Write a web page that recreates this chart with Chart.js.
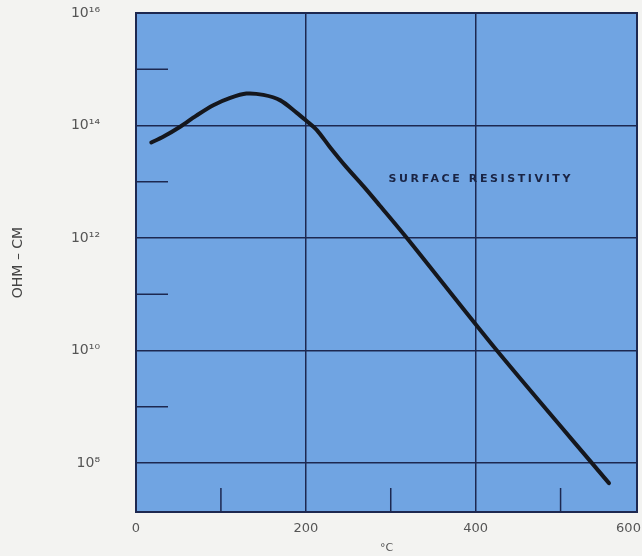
<!DOCTYPE html>
<html>
<head>
<meta charset="utf-8">
<script src="https://cdn.jsdelivr.net/npm/chart.js@4"></script>
<style>
  body { margin: 0; background: #f3f3f1; }
  canvas { display: block; }
</style>
</head>
<body>
<canvas id="myChart" width="642" height="556"></canvas>
<script>
// Data
const tempC = [18, 32, 52, 71, 91, 111, 130, 150, 170, 189, 201, 213, 228, 248, 268, 287, 319, 425, 557];
const resistivity = [5.0e13, 6.3e13, 9.5e13, 1.5e14, 2.3e14, 3.1e14, 3.7e14, 3.5e14, 2.8e14, 1.7e14,
                     1.2e14, 8.3e13, 4.2e13, 1.8e13, 8.3e12, 3.8e12, 1.0e12, 1.0e10, 4.4e7];

const xTickPos = [0, 200, 400, 580];
const xTickText = ['0', '200', '400', '600'];
const xGridVals = [200, 400];
const xMinorTicks = [100, 300, 500];

const yTickPos = [1e8, 1e10, 1e12, 1e14, 1e16];
const yTickText = ['10⁸', '10¹⁰', '10¹²', '10¹⁴', '10¹⁶'];
const yMinorTicks = [1e9, 1e11, 1e13, 1e15];

const navy = '#1d2850';
const plotBlue = '#70a4e2';

const framePlugin = {
  id: 'frame',
  beforeDraw(chart) {
    const { ctx, chartArea: a } = chart;
    ctx.save();
    ctx.fillStyle = plotBlue;
    ctx.fillRect(a.left, a.top, a.right - a.left, a.bottom - a.top);
    ctx.restore();
  },
  beforeDatasetsDraw(chart) {
    const { ctx, chartArea: a, scales } = chart;
    ctx.save();
    ctx.strokeStyle = navy;
    ctx.lineWidth = 2;
    ctx.strokeRect(a.left, a.top, a.right - a.left, a.bottom - a.top);
    // short inner ticks
    ctx.lineWidth = 1.5;
    ctx.beginPath();
    yMinorTicks.forEach(v => {
      const y = scales.y.getPixelForValue(v);
      ctx.moveTo(a.left, y);
      ctx.lineTo(a.left + 32, y);
    });
    xMinorTicks.forEach(v => {
      const x = scales.x.getPixelForValue(v);
      ctx.moveTo(x, a.bottom);
      ctx.lineTo(x, a.bottom - 24);
    });
    ctx.stroke();
    // curve label
    ctx.fillStyle = '#1a2444';
    ctx.font = 'bold 11px "DejaVu Sans"';
    ctx.letterSpacing = '2.6px';
    ctx.textAlign = 'center';
    ctx.textBaseline = 'middle';
    ctx.fillText('SURFACE RESISTIVITY', scales.x.getPixelForValue(406), scales.y.getPixelForValue(1.1e13));
    ctx.restore();
  }
};

new Chart(document.getElementById('myChart'), {
  type: 'line',
  plugins: [framePlugin],
  data: {
    datasets: [{
      data: tempC.map((t, i) => ({ x: t, y: resistivity[i] })),
      borderColor: '#15171d',
      borderWidth: 4,
      borderCapStyle: 'round',
      pointRadius: 0,
      tension: 0.3,
      fill: false
    }]
  },
  options: {
    responsive: false,
    animation: false,
    layout: { padding: { top: 13, right: 5, left: 0, bottom: 0 } },
    plugins: {
      legend: { display: false },
      tooltip: { enabled: false }
    },
    scales: {
      x: {
        type: 'linear',
        min: 0,
        max: 590,
        afterFit: s => { s.height = 44; s.paddingLeft = 0; s.paddingRight = 0; },
        afterBuildTicks: s => { s.ticks = xTickPos.map(v => ({ value: v })); },
        grid: {
          drawTicks: false,
          lineWidth: 1.5,
          color: c => (c.tick && xGridVals.includes(c.tick.value)) ? navy : 'rgba(0,0,0,0)'
        },
        border: { display: false },
        ticks: {
          padding: 9,
          maxRotation: 0,
          color: '#555',
          font: { family: 'DejaVu Sans', size: 13 },
          callback: (v, i) => xTickText[i]
        },
        title: {
          display: true,
          text: '°C',
          color: '#555',
          font: { family: 'DejaVu Sans', size: 11 },
          padding: { top: 0, bottom: 1 }
        }
      },
      y: {
        type: 'logarithmic',
        min: 1.35e7,
        max: 1e16,
        afterFit: s => { s.width = 136; s.paddingTop = 0; s.paddingBottom = 0; },
        afterBuildTicks: s => { s.ticks = yTickPos.map(v => ({ value: v })); },
        grid: {
          drawTicks: false,
          lineWidth: 1.5,
          color: navy
        },
        border: { display: false },
        ticks: {
          padding: 36,
          color: '#555',
          font: { family: 'DejaVu Sans', size: 14 },
          callback: (v, i) => yTickText[i]
        },
        title: {
          display: true,
          text: 'OHM – CM',
          color: '#444',
          font: { family: 'DejaVu Sans', size: 14 },
          padding: { top: 10, bottom: 0 }
        }
      }
    }
  }
});
</script>
</body>
</html>
